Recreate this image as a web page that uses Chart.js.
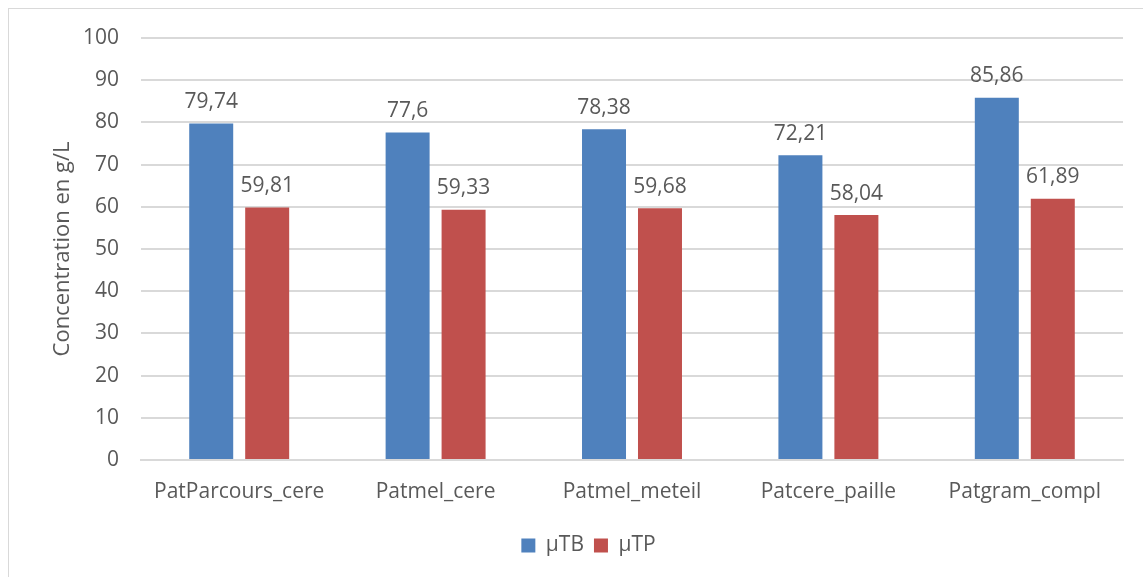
<!DOCTYPE html>
<html>
<head>
<meta charset="utf-8">
<script src="https://cdn.jsdelivr.net/npm/chart.js@4"></script>
<style>
  html, body { margin: 0; padding: 0; background: #fff; overflow: hidden; }
  #frame {
    position: absolute; left: 8px; top: 8px;
    width: 1200px; height: 620px;
    border: 1px solid #d9d9d9; box-sizing: border-box;
  }
  #wrap { position: absolute; left: 0; top: 0; width: 1143px; height: 577px; }
</style>
</head>
<body>
<div id="frame"></div>
<div id="wrap"><canvas id="chart"></canvas></div>
<script>
// Concentrations per ration type
const categories = ['PatParcours_cere', 'Patmel_cere', 'Patmel_meteil', 'Patcere_paille', 'Patgram_compl'];
const muTB = [79.74, 77.6, 78.38, 72.21, 85.86];
const muTP = [59.81, 59.33, 59.68, 58.04, 61.89];
const seriesNames = ['µTB', 'µTP'];
const seriesColors = ['#4F81BD', '#C0504D'];

const FONT = "'Open Sans', sans-serif";
const TEXT = '#595959';

// Writes each value above its bar, with a decimal comma
const valueLabels = {
    id: 'valueLabels',
    afterDatasetsDraw(chart) {
        const ctx = chart.ctx;
        ctx.save();
        ctx.font = '21px ' + FONT;
        ctx.fillStyle = TEXT;
        ctx.textAlign = 'center';
        ctx.textBaseline = 'bottom';
        chart.data.datasets.forEach((ds, i) => {
            chart.getDatasetMeta(i).data.forEach((bar, j) => {
                const txt = String(ds.data[j]).replace('.', ',');
                ctx.fillText(txt, bar.x, bar.y - 11);
            });
        });
        ctx.restore();
    }
};

// Legend sits a little right of the plot centre and slightly lower
const legendShift = {
    id: 'legendShift',
    afterLayout(chart) {
        const lg = chart.legend;
        if (lg) {
            lg.left += 23;
            lg.right += 23;
            lg.top += 3;
            lg.bottom += 3;
        }
    }
};

const ctx = document.getElementById('chart').getContext('2d');
new Chart(ctx, {
    type: 'bar',
    data: {
        labels: categories,
        datasets: [{
            label: seriesNames[0],
            data: muTB,
            backgroundColor: seriesColors[0],
            barPercentage: 0.786,
            categoryPercentage: 0.57
        }, {
            label: seriesNames[1],
            data: muTP,
            backgroundColor: seriesColors[1],
            barPercentage: 0.786,
            categoryPercentage: 0.57
        }]
    },
    options: {
        responsive: true,
        maintainAspectRatio: false,
        animation: false,
        layout: {
            padding: { left: 8, right: 20, top: 38, bottom: 14 }
        },
        plugins: {
            legend: {
                position: 'bottom',
                labels: {
                    font: { family: FONT, size: 21 },
                    color: TEXT,
                    boxWidth: 14,
                    boxHeight: 14,
                    padding: 10
                }
            },
            tooltip: { enabled: false }
        },
        scales: {
            x: {
                grid: { display: false },
                border: { color: '#d9d9d9', width: 2 },
                ticks: {
                    font: { family: FONT, size: 21 },
                    color: TEXT,
                    padding: 11
                },
                afterFit(scale) { scale.height = 62; }
            },
            y: {
                min: 0,
                max: 100,
                ticks: {
                    stepSize: 10,
                    font: { family: FONT, size: 21 },
                    color: TEXT,
                    padding: 22
                },
                grid: { color: '#d9d9d9', lineWidth: 2, drawTicks: false },
                border: { display: false },
                title: {
                    display: true,
                    text: 'Concentration en g/L',
                    font: { family: FONT, size: 22 },
                    color: TEXT,
                    padding: { top: 42, bottom: 0 }
                },
                afterFit(scale) { scale.width = 133; }
            }
        }
    },
    plugins: [valueLabels, legendShift]
});
</script>
</body>
</html>
